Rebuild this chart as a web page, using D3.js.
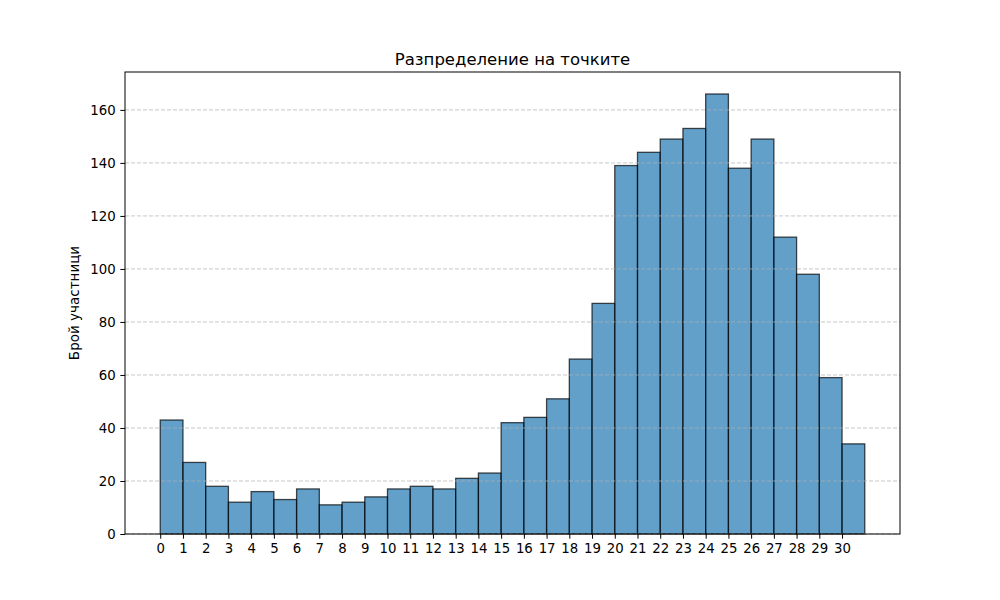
<!DOCTYPE html>
<html>
<head>
<meta charset="utf-8">
<script src="https://cdn.jsdelivr.net/npm/d3@7"></script>
<style>
  body { margin: 0; background: #fff; }
  text { font-family: "DejaVu Sans", sans-serif; }
</style>
</head>
<body>
<div id="chart"></div>
<script>
// histogram bins: left edge of each bin and its count
var binStarts = d3.range(0, 31);
var counts = [43, 27, 18, 12, 16, 13, 17, 11, 12, 14, 17, 18, 17, 21, 23,
              42, 44, 51, 66, 87, 139, 144, 149, 153, 166, 138, 149, 112, 98, 59, 34];
var xTicks = d3.range(0, 31);
var yTicks = [0, 20, 40, 60, 80, 100, 120, 140, 160];

var width = 1000, height = 600;
// (window.top is read-only, so don't call it "top")
var plotLeft = 125, plotRight = 900, plotTop = 72, plotBottom = 534;

var svg = d3.select('#chart').append('svg')
    .attr('width', width)
    .attr('height', height);

// matplotlib style 5% margins
var x = d3.scaleLinear().domain([-1.55, 32.55]).range([plotLeft, plotRight]);
var y = d3.scaleLinear().domain([0, 166 * 1.05]).range([plotBottom, plotTop]);

svg.append('g').selectAll('rect')
    .data(counts)
  .enter().append('rect')
    .attr('x', function(d, i) { return x(binStarts[i]); })
    .attr('y', function(d) { return y(d); })
    .attr('width', function(d, i) { return x(binStarts[i] + 1) - x(binStarts[i]); })
    .attr('height', function(d) { return y(0) - y(d); })
    .attr('fill', '#1f77b4')
    .attr('fill-opacity', 0.7)
    .attr('stroke', '#000')
    .attr('stroke-opacity', 0.7)
    .attr('stroke-width', 1.3);

// dashed horizontal grid, drawn over the bars like matplotlib does
svg.append('g').selectAll('line')
    .data(yTicks)
  .enter().append('line')
    .attr('x1', plotLeft).attr('x2', plotRight)
    .attr('y1', function(d) { return y(d); })
    .attr('y2', function(d) { return y(d); })
    .attr('stroke', '#b0b0b0')
    .attr('stroke-opacity', 0.7)
    .attr('stroke-width', 1)
    .attr('stroke-dasharray', '4,2');

var xAxis = svg.append('g')
    .attr('transform', 'translate(0,' + plotBottom + ')')
    .call(d3.axisBottom(x).tickValues(xTicks).tickSize(4.7).tickPadding(4.7).tickFormat(d3.format('d')));
var yAxis = svg.append('g')
    .attr('transform', 'translate(' + plotLeft + ',0)')
    .call(d3.axisLeft(y).tickValues(yTicks).tickSize(4.7).tickPadding(4.7).tickFormat(d3.format('d')));

[xAxis, yAxis].forEach(function(a) {
  a.select('.domain').remove();
  a.selectAll('.tick line').attr('stroke', '#000').attr('stroke-width', 1);
  a.selectAll('.tick text').attr('font-size', '13.3px').attr('fill', '#000')
    .attr('font-family', '"DejaVu Sans", sans-serif');
});

// frame
svg.append('rect')
    .attr('x', plotLeft).attr('y', plotTop)
    .attr('width', plotRight - plotLeft).attr('height', plotBottom - plotTop)
    .attr('fill', 'none')
    .attr('stroke', '#000')
    .attr('stroke-width', 1);

// title and y label are in a Noto-like face in the original
svg.append('text')
    .attr('x', (plotLeft + plotRight) / 2)
    .attr('y', plotTop - 7)
    .attr('text-anchor', 'middle')
    .attr('font-family', '"Noto Sans", sans-serif')
    .attr('font-size', '16.5px')
    .text('Разпределение на точките');

svg.append('text')
    .attr('transform', 'translate(79,' + ((plotTop + plotBottom) / 2) + ') rotate(-90)')
    .attr('text-anchor', 'middle')
    .attr('font-family', '"Noto Sans", sans-serif')
    .attr('font-size', '13.5px')
    .text('Брой участници');
</script>
</body>
</html>
